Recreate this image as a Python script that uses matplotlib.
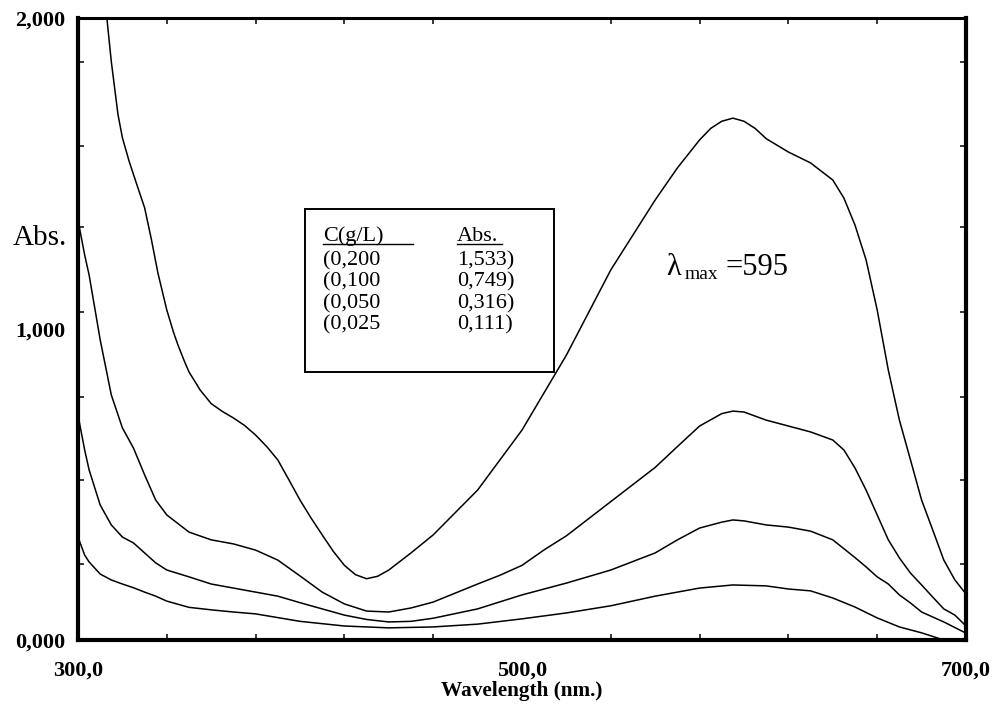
import numpy as np
import matplotlib
matplotlib.use("Agg")
import matplotlib.pyplot as plt
from matplotlib.lines import Line2D
from matplotlib.patches import Rectangle

plt.rcParams['font.family'] = ['Liberation Serif', 'DejaVu Serif']

# --- spectra (wavelength nm, absorbance) ---
wl_a = [312, 313, 315, 318, 320, 323, 326, 330, 333, 336, 340, 343, 345, 348, 350,
        355, 360, 365, 370, 375, 380, 385, 390, 395, 400, 405, 410, 415, 420, 425,
        430, 435, 440, 450, 460, 480, 500, 520, 540, 560, 570, 580, 585, 590, 595,
        600, 605, 610, 620, 630, 640, 645, 650, 655, 660, 665, 670, 675, 680, 685,
        690, 695, 700]
abs_a = [2.05, 2.00, 1.86, 1.69, 1.615, 1.54, 1.475, 1.39, 1.29, 1.18, 1.061, 0.99,
         0.949, 0.895, 0.862, 0.804, 0.760, 0.735, 0.714, 0.690, 0.659, 0.622, 0.579,
         0.515, 0.450, 0.392, 0.338, 0.285, 0.240, 0.210, 0.197, 0.205, 0.225, 0.280,
         0.338, 0.482, 0.675, 0.916, 1.190, 1.415, 1.518, 1.608, 1.645, 1.668, 1.678,
         1.668, 1.645, 1.612, 1.569, 1.534, 1.479, 1.421, 1.334, 1.222, 1.061, 0.868,
         0.707, 0.579, 0.450, 0.354, 0.257, 0.193, 0.148]

wl_b = [300, 303, 305, 310, 315, 320, 325, 330, 335, 340, 350, 360, 370, 380, 390,
        400, 410, 420, 430, 440, 450, 460, 480, 490, 500, 510, 520, 530, 540, 560,
        570, 580, 590, 595, 600, 610, 620, 630, 640, 645, 650, 655, 660, 665, 670,
        675, 680, 685, 690, 695, 700]
abs_b = [1.350, 1.238, 1.174, 0.965, 0.788, 0.682, 0.617, 0.531, 0.450, 0.402, 0.347,
         0.322, 0.309, 0.289, 0.257, 0.206, 0.154, 0.116, 0.093, 0.090, 0.103, 0.122,
         0.180, 0.208, 0.240, 0.290, 0.335, 0.390, 0.445, 0.555, 0.622, 0.688, 0.728,
         0.736, 0.733, 0.707, 0.688, 0.669, 0.643, 0.611, 0.553, 0.482, 0.402, 0.322,
         0.264, 0.215, 0.177, 0.138, 0.100, 0.080, 0.045]

wl_c = [300, 303, 305, 310, 315, 320, 325, 330, 335, 340, 350, 360, 370, 380, 390,
        400, 410, 420, 430, 440, 450, 460, 480, 500, 520, 540, 560, 570, 580, 590,
        595, 600, 610, 620, 630, 640, 650, 655, 660, 665, 670, 675, 680, 690, 700]
abs_c = [0.723, 0.611, 0.547, 0.434, 0.370, 0.331, 0.312, 0.280, 0.248, 0.225, 0.203,
         0.180, 0.167, 0.154, 0.141, 0.120, 0.100, 0.080, 0.066, 0.058, 0.060, 0.070,
         0.100, 0.145, 0.183, 0.225, 0.280, 0.322, 0.360, 0.379, 0.386, 0.383, 0.370,
         0.363, 0.350, 0.322, 0.265, 0.235, 0.203, 0.180, 0.145, 0.119, 0.090, 0.058,
         0.022]

wl_d = [300, 303, 305, 310, 315, 320, 325, 330, 335, 340, 350, 360, 370, 380, 400,
        420, 440, 460, 480, 500, 520, 540, 560, 580, 595, 610, 620, 630, 640, 650,
        660, 670, 680, 690, 700]
abs_d = [0.331, 0.273, 0.251, 0.212, 0.193, 0.180, 0.168, 0.154, 0.141, 0.125, 0.105,
         0.097, 0.090, 0.084, 0.060, 0.045, 0.039, 0.042, 0.051, 0.068, 0.087, 0.110,
         0.141, 0.167, 0.177, 0.174, 0.164, 0.158, 0.135, 0.106, 0.071, 0.042, 0.023,
         0.000, -0.020]

conc = ["(0,200", "(0,100", "(0,050", "(0,025"]
absmax = ["1,533)", "0,749)", "0,316)", "0,111)"]

x_major = [300, 500, 700]
x_minor = [340, 380, 420, 460, 540, 580, 620, 660]
y_major = [0, 1, 2]
y_minor = [0.243, 0.514, 0.782, 1.056, 1.328, 1.589, 1.859]

W, H = 1003, 711
fig = plt.figure(figsize=(W / 100, H / 100), dpi=100)
ax = fig.add_axes([78 / W, 1 - 640 / H, (966 - 78) / W, (640 - 18) / H])

for wl, a in [(wl_a, abs_a), (wl_b, abs_b), (wl_c, abs_c), (wl_d, abs_d)]:
    ax.plot(wl, a, color='black', lw=1.1)

ax.set_xlim(300, 700)
ax.set_ylim(0, 2)

for side in ['left', 'bottom', 'right']:
    ax.spines[side].set_linewidth(3.0)
ax.spines['top'].set_linewidth(2.2)

ax.set_xticks(x_major)
ax.set_xticklabels(["300,0", "500,0", "700,0"])
ax.set_xticks(x_minor, minor=True)
ax.set_yticks(y_major)
ax.set_yticklabels(["0,000", "1,000", "2,000"])
ax.set_yticks(y_minor, minor=True)

ax.tick_params(which='major', length=0, pad=9)
ax.tick_params(axis='x', which='major', pad=15)
ax.tick_params(which='minor', direction='in', length=4.5, width=1.1,
               top=True, right=True, left=True, bottom=True)
for lab in ax.get_xticklabels() + ax.get_yticklabels():
    lab.set_fontweight('bold')
    lab.set_fontsize(16)

ax.set_xlabel("Wavelength (nm.)", fontsize=15.3, fontweight='bold', labelpad=0)

def px(x, y):
    return x / W, 1 - y / H

fig.text(*px(13, 245), "Abs.", fontsize=21, ha='left', va='baseline')

# legend-like box
x0, y0 = px(305, 372)
fig.add_artist(Rectangle((x0, y0), (554 - 305) / W, (372 - 209) / H,
                         transform=fig.transFigure, fill=False, lw=1.4,
                         edgecolor='black'))
fig.text(*px(323, 241), "C(g/L)", fontsize=16, va='baseline')
fig.text(*px(457, 241), "Abs.", fontsize=16, va='baseline')
fig.add_artist(Line2D([323 / W, 413 / W], [1 - 243.5 / H] * 2, lw=1.0,
                      color='black', transform=fig.transFigure))
fig.add_artist(Line2D([457 / W, 502 / W], [1 - 243.5 / H] * 2, lw=1.0,
                      color='black', transform=fig.transFigure))
for i, (c, a) in enumerate(zip(conc, absmax)):
    yb = 265 + i * 21.5
    fig.text(*px(323, yb), c, fontsize=16, va='baseline')
    fig.text(*px(457, yb), a, fontsize=16, va='baseline')

fig.text(*px(666, 275), "λ", fontsize=22, va='baseline')
fig.text(*px(685, 279), "max", fontsize=14, va='baseline')
fig.text(*px(726, 275), "=595", fontsize=22, va='baseline')

fig.savefig("out.png", dpi=100)
